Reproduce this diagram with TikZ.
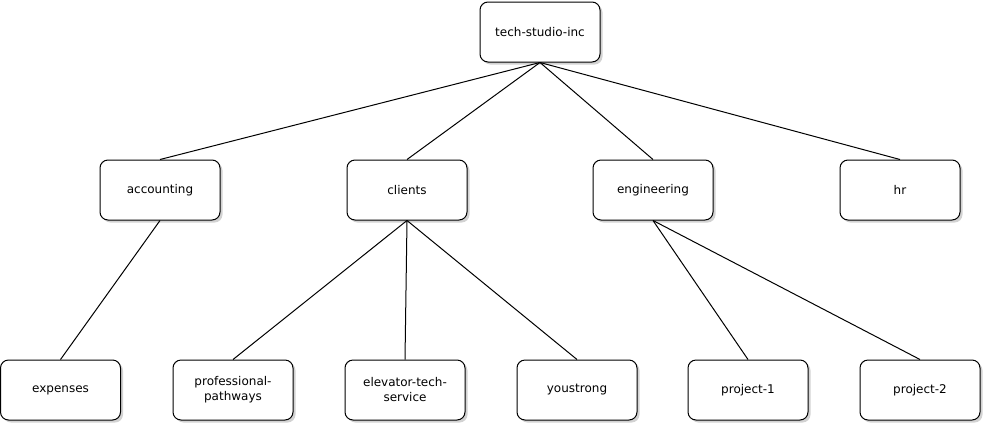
\documentclass[tikz,border=0pt]{standalone}
\usepackage{fontspec}
\setmainfont{DejaVu Sans}
\usetikzlibrary{shadows}
\begin{document}
\begin{tikzpicture}[x=1pt,y=-1pt,
  box/.style={draw=black, line width=1pt, fill=white, rounded corners=8pt,
    minimum width=120pt, minimum height=60pt, inner sep=0pt, align=center,
    font=\fontsize{12}{15}\selectfont,
    drop shadow={shadow xshift=2.5pt, shadow yshift=-2.5pt, opacity=0.35, fill=gray}},
  link/.style={draw=black, line width=1pt}]
\useasboundingbox (0,0) rectangle (983,424);
\fill[white] (0,0) rectangle (983,424);
% nodes
\node[box] (root) at (540,32) {tech-studio-inc};
\node[box] (acc) at (160,190) {accounting};
\node[box] (cli) at (407,190) {clients};
\node[box] (eng) at (653,190) {engineering};
\node[box] (hr) at (900,190) {hr};
\node[box] (exp) at (60.5,390) {expenses};
\node[box] (pro) at (233,390) {professional-\\pathways};
\node[box] (ele) at (405,390) {elevator-tech-\\service};
\node[box] (you) at (577,390) {youstrong};
\node[box] (p1) at (748,390) {project-1};
\node[box] (p2) at (920,390) {project-2};
% connectors
\draw[link] (root.south) -- (acc.north);
\draw[link] (root.south) -- (cli.north);
\draw[link] (root.south) -- (eng.north);
\draw[link] (root.south) -- (hr.north);
\draw[link] (acc.south) -- (exp.north);
\draw[link] (cli.south) -- (pro.north);
\draw[link] (cli.south) -- (ele.north);
\draw[link] (cli.south) -- (you.north);
\draw[link] (eng.south) -- (p1.north);
\draw[link] (eng.south) -- (p2.north);
\end{tikzpicture}
\end{document}
